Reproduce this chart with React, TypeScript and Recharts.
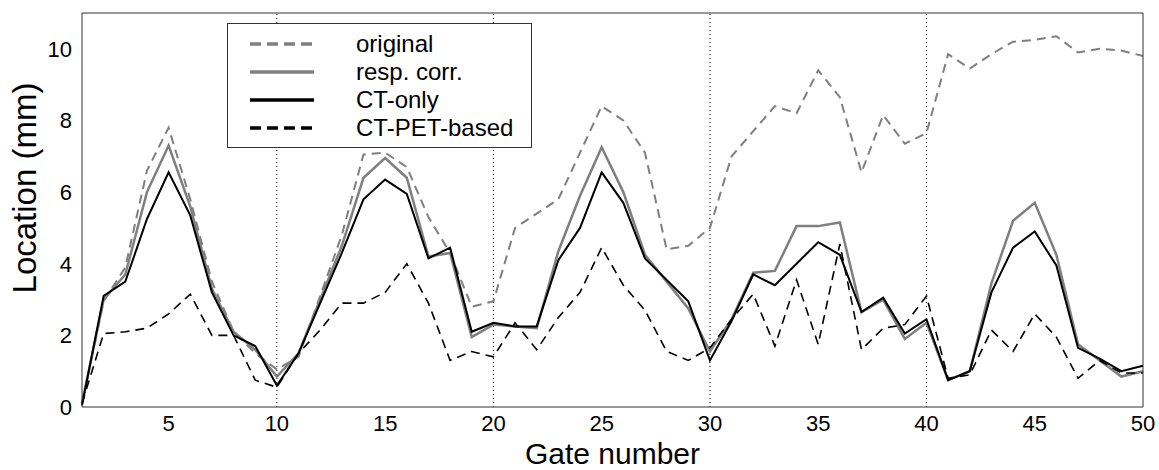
import React from "react"
import {
  LineChart, Line, XAxis, YAxis, ReferenceLine, Legend, Label,
} from "recharts"

const GATES = Array.from({ length: 50 }, (_, i) => i + 1)

const ORIGINAL = [
  0.1, 2.95, 3.9, 6.6, 7.8, 5.8, 3.5, 2.1, 1.5, 1.05,
  1.4, 3.1, 4.8, 7.05, 7.1, 6.7, 5.3, 4.3, 2.8, 2.95,
  5.0, 5.4, 5.8, 7.1, 8.4, 8.0, 7.1, 4.4, 4.5, 5.0,
  7.0, 7.7, 8.4, 8.2, 9.4, 8.65, 6.55, 8.15, 7.35, 7.65,
  9.85, 9.45, 9.85, 10.2, 10.25, 10.35, 9.9, 10.0, 9.95, 9.8,
]
const RESP_CORR = [
  0.1, 3.0, 3.7, 6.0, 7.3, 5.6, 3.3, 2.1, 1.6, 0.85,
  1.5, 3.0, 4.5, 6.4, 6.95, 6.4, 4.2, 4.3, 1.95, 2.3,
  2.25, 2.2, 4.35, 5.9, 7.25, 6.0, 4.25, 3.5, 2.75, 1.55,
  2.45, 3.75, 3.8, 5.05, 5.05, 5.15, 2.65, 3.0, 1.9, 2.35,
  0.75, 1.0, 3.45, 5.2, 5.7, 4.25, 1.75, 1.3, 0.85, 1.0,
]
const CT_ONLY = [
  0.05, 3.1, 3.5, 5.25, 6.55, 5.35, 3.2, 2.0, 1.7, 0.6,
  1.5, 2.9, 4.3, 5.8, 6.35, 5.95, 4.15, 4.45, 2.1, 2.35,
  2.25, 2.25, 4.1, 5.0, 6.55, 5.7, 4.15, 3.55, 2.95, 1.3,
  2.4, 3.7, 3.4, 4.0, 4.6, 4.25, 2.65, 3.05, 2.05, 2.45,
  0.75, 1.0, 3.2, 4.45, 4.9, 3.95, 1.65, 1.35, 1.0, 1.15,
]
const CT_PET = [
  0.1, 2.05, 2.1, 2.2, 2.6, 3.15, 2.0, 2.0, 0.75, 0.55,
  1.5, 2.15, 2.9, 2.9, 3.2, 4.0, 2.9, 1.3, 1.55, 1.4,
  2.35, 1.6, 2.5, 3.2, 4.45, 3.4, 2.7, 1.55, 1.3, 1.65,
  2.45, 3.15, 1.7, 3.55, 1.75, 4.55, 1.6, 2.2, 2.3, 3.1,
  0.8, 0.9, 2.15, 1.55, 2.6, 1.95, 0.8, 1.3, 0.95, 0.95,
]

const X_TICKS = [5, 10, 15, 20, 25, 30, 35, 40, 45, 50]
const Y_TICKS = [0, 2, 4, 6, 8, 10]
const DIVIDERS = [10, 20, 30, 40]

const GRAY = "#7f7f7f"
const AXIS = "#333"
const FONT = "'Liberation Sans', Arial, Helvetica, sans-serif"

const SERIES = [
  { key: "original", name: "original", color: GRAY, width: 2, dash: "9 6" },
  { key: "resp", name: "resp. corr.", color: GRAY, width: 2.5, dash: undefined },
  { key: "ct", name: "CT-only", color: "#000", width: 2, dash: undefined },
  { key: "ctpet", name: "CT-PET-based", color: "#000", width: 1.6, dash: "9 6" },
]

const data = GATES.map((g, i) => ({
  gate: g,
  original: ORIGINAL[i],
  resp: RESP_CORR[i],
  ct: CT_ONLY[i],
  ctpet: CT_PET[i],
}))

function LegendBox() {
  return (
    <div
      style={{
        width: 305, height: 125, boxSizing: "border-box", border: `1px solid ${AXIS}`,
        background: "#fff", fontFamily: FONT, fontSize: 24, paddingTop: 6,
      }}
    >
      {SERIES.map((s) => (
        <div key={s.key} style={{ display: "flex", alignItems: "center", height: 28 }}>
          <svg width={128} height={28} style={{ flex: "none" }}>
            <line
              x1={22} x2={86} y1={14} y2={14}
              stroke={s.color} strokeWidth={3.5}
              strokeDasharray={s.dash ? "11 6" : undefined}
            />
          </svg>
          <span style={{ color: "#000", lineHeight: "28px" }}>{s.name}</span>
        </div>
      ))}
    </div>
  )
}

export default function App() {
  return (
    <div style={{ position: "absolute", left: 0, top: 0, width: 1159, height: 470, background: "#fff" }}>
      <LineChart
        width={1159}
        height={470}
        data={data}
        margin={{ top: 13, right: 16, left: 22, bottom: 0 }}
        style={{ fontFamily: FONT }}
      >
        <XAxis
          xAxisId="main" dataKey="gate" type="number" domain={[1, 50]} ticks={X_TICKS}
          height={63} tickLine={false} tickSize={0} tickMargin={8}
          axisLine={{ stroke: AXIS }} tick={{ fontSize: 22, fill: "#000" }}
        >
          <Label
            content={({ viewBox }: any) => (
              <text
                x={viewBox.x + viewBox.width / 2} y={464} textAnchor="middle"
                fontSize={30} fontFamily={FONT} fill="#000"
              >
                Gate number
              </text>
            )}
          />
        </XAxis>
        <XAxis
          xAxisId="bottomIn" dataKey="gate" type="number" domain={[1, 50]} ticks={X_TICKS}
          mirror height={20} tick={false} tickSize={10} axisLine={false} tickLine={{ stroke: AXIS }}
        />
        <XAxis
          xAxisId="topIn" orientation="top" dataKey="gate" type="number" domain={[1, 50]} ticks={X_TICKS}
          mirror height={20} tick={false} tickSize={10} axisLine={{ stroke: AXIS }} tickLine={{ stroke: AXIS }}
        />
        <YAxis
          yAxisId="main" type="number" domain={[0, 11]} ticks={Y_TICKS} width={60}
          tickLine={false} tickSize={0} tickMargin={10}
          axisLine={{ stroke: AXIS }} tick={{ fontSize: 22, fill: "#000" }}
        >
          <Label
            content={() => (
              <text
                x={36} y={188} transform="rotate(-90, 36, 188)" textAnchor="middle"
                fontSize={33} fontFamily={FONT} fill="#000"
              >
                Location (mm)
              </text>
            )}
          />
        </YAxis>
        <YAxis
          yAxisId="leftIn" type="number" domain={[0, 11]} ticks={Y_TICKS}
          mirror width={20} tick={false} tickSize={10} axisLine={false} tickLine={{ stroke: AXIS }}
        />
        <YAxis
          yAxisId="rightIn" orientation="right" type="number" domain={[0, 11]} ticks={Y_TICKS}
          mirror width={20} tick={false} tickSize={10} axisLine={{ stroke: AXIS }} tickLine={{ stroke: AXIS }}
        />
        {DIVIDERS.map((x) => (
          <ReferenceLine
            key={x} x={x} xAxisId="main" yAxisId="main"
            stroke="#000" strokeWidth={1} strokeDasharray="1 3"
          />
        ))}
        {SERIES.map((s) => (
          <Line
            key={s.key} xAxisId="main" yAxisId="main" dataKey={s.key} name={s.name}
            type="linear" stroke={s.color} strokeWidth={s.width} strokeDasharray={s.dash}
            dot={false} activeDot={false} isAnimationActive={false}
          />
        ))}
        <Legend
          layout="horizontal" verticalAlign="middle" align="center"
          content={() => <LegendBox />}
          wrapperStyle={{ left: 227, top: 23, width: 305, height: 125 }}
        />
      </LineChart>
    </div>
  )
}
